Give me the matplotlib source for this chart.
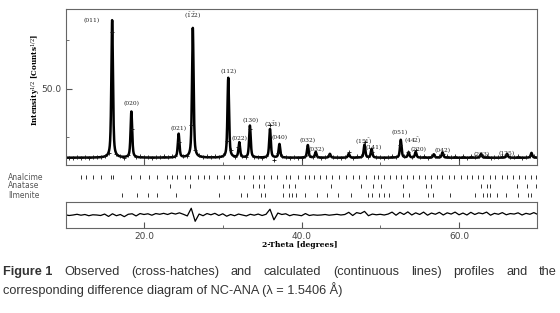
import numpy as np
import matplotlib
matplotlib.use("Agg")
import matplotlib.pyplot as plt
from matplotlib.ticker import FixedLocator, NullFormatter, FixedFormatter

plt.rcParams["mathtext.fontset"] = "dejavuserif"

# ---------------- data ----------------
# fitted reflections: position (2-theta), top of peak (sqrt counts)
peak_pos = [15.96, 18.40, 24.40, 26.20, 30.70, 32.10, 33.45, 36.00, 37.20,
            40.80, 41.80, 43.60, 46.00, 48.00, 48.90, 52.60, 53.60, 54.50,
            56.80, 57.90, 62.80, 66.10, 69.20]
peak_top = [64.2, 45.3, 40.7, 62.6, 52.3, 38.9, 42.4, 41.7, 38.6,
            38.4, 37.0, 36.6, 36.6, 38.5, 37.6, 39.5, 36.9, 37.0,
            36.5, 36.9, 36.6, 36.6, 36.8]
background = 35.8

# labelled peaks: text, 2-theta, label centre height
hkl_text = ["(011)", "(020)", "(021)", r"$(\bar{1}\bar{2}2)$", "(112)", "(022)",
            "(130)", r"$(2\bar{3}1)$", "(040)", "(032)", "(032)", r"$(15\bar{1})$",
            "(141)", "(051)", r"$(44\bar{2})$", "(220)", "(042)", "(233)", "(125)"]
hkl_pos = [13.35, 18.40, 24.40, 26.20, 30.70, 32.10, 33.55, 36.40, 37.25,
           40.80, 41.95, 47.90, 49.20, 52.40, 54.10, 54.90, 57.90, 62.90, 66.00]
hkl_y = [64.2, 46.9, 41.75, 65.25, 53.5, 39.7, 43.4, 42.8, 39.9,
         39.3, 37.4, 39.3, 38.0, 40.9, 39.4, 37.5, 37.2, 36.5, 36.7]

# difference curve (obs - calc), every 0.5 deg from 10 to 70
diff_x = np.arange(10.0, 70.01, 0.5)
diff_y = [0.03, -0.07, 0.0, 0.1, -0.03, 0.07, -0.1, 0.03, 0.0, -0.07,
          0.13, -0.2, 0.17, -0.1, 0.07, -0.23, 0.1, 0.17, -0.13, 0.2,
          0.07, 0.17, -0.03, 0.2, 0.1, 0.23, 0.07, 0.27, 0.13, 0.3,
          0.1, -0.13, 0.93, -0.87, 0.13, -0.1, 0.2, 0.03, 0.23, -0.07,
          0.17, -0.17, 0.07, -0.1, 0.13, 0.0, -0.13, 0.1, -0.03, 0.13,
          -0.07, 0.1, 0.8, -0.67, 0.27, 0.07, 0.17, -0.1, 0.07, 0.0,
          -0.1, 0.2, -0.07, 0.03, -0.03, 0.0, 0.07, -0.03, 0.03, 0.1,
          0.0, 0.07, 0.37, -0.07, 0.33, 0.2, 0.5, -0.1, 0.13, 0.03,
          0.1, 0.0, 0.13, 0.4, -0.03, 0.37, 0.07, 0.43, 0.0, 0.3,
          0.07, 0.4, -0.03, 0.27, 0.1, 0.37, 0.0, 0.3, 0.13, 0.4,
          0.03, 0.27, 0.0, 0.37, 0.07, 0.3, 0.17, 0.4, -0.03, 0.23,
          0.1, 0.33, 0.03, 0.2, 0.13, 0.3, 0.0, 0.23, 0.1, 0.33,
          0.07]

# Bragg reflection markers for each phase
phases = ["Analcime", "Anatase", "Ilmenite"]
analcime = [12.0, 12.7, 13.5, 14.6, 15.8, 16.1, 18.4, 19.5, 20.7, 21.7, 22.9,
            23.6, 24.2, 25.2, 25.9, 26.9, 27.6, 28.2, 29.3, 30.1, 30.8, 32.1,
            32.7, 33.8, 34.6, 35.2, 36.1, 36.9, 38.0, 38.6, 39.5, 40.5, 40.9,
            41.6, 42.4, 43.1, 43.9, 44.8, 45.6, 46.5, 47.3, 48.2, 49.2, 49.7,
            50.5, 51.2, 52.0, 52.6, 53.4, 54.2, 54.9, 55.7, 56.4, 57.2, 57.9,
            58.7, 59.4, 60.2, 61.0, 61.6, 62.4, 63.1, 63.9, 64.6, 65.4, 66.1,
            66.9, 67.6, 68.4, 69.1, 69.8]
anatase = [23.3, 25.9, 33.8, 34.6, 35.2, 37.6, 38.4, 39.2, 43.8, 47.5, 49.1,
           50.1, 52.9, 55.8, 56.5, 62.8, 63.5, 63.9, 67.3, 68.6, 69.8]
ilmenite = [17.2, 19.1, 20.5, 21.6, 24.1, 29.5, 32.3, 33.1, 34.8, 35.4, 37.6,
            38.4, 38.8, 39.3, 40.5, 42.0, 43.3, 44.6, 46.3, 48.4, 49.0, 49.9,
            50.5, 51.1, 52.9, 53.7, 56.0, 56.7, 58.8, 62.0, 63.0, 63.5, 63.9,
            64.8, 66.0, 67.5, 68.8, 69.2, 70.0]
phase_marks = [analcime, anatase, ilmenite]

caption1 = "Figure 1 Observed (cross-hatches) and calculated (continuous lines) profiles and the"
caption2 = "corresponding difference diagram of NC-ANA (\u03bb = 1.5406 \u00c5)"


def calc_profile(x):
    """pseudo-Voigt sum of the reflections above a flat background"""
    y = np.full_like(x, background)
    fwhm = 0.24
    for p, t in zip(peak_pos, peak_top):
        d = (x - p) / (fwhm / 2)
        lor = 1.0 / (1.0 + d ** 2)
        gau = np.exp(-np.log(2) * d ** 2)
        y += (t - background) * (0.6 * lor + 0.4 * gau)
    return y


W, H = 560, 313
fig = plt.figure(figsize=(W / 100, H / 100), dpi=100)


def axes_px(l, t, r, b):
    return fig.add_axes([l / W, 1 - b / H, (r - l) / W, (b - t) / H])


frame = "#666666"
tick_grey = "#555555"

# ---------------- main pattern ----------------
ax = axes_px(66, 9, 537, 165)
xf = np.linspace(10.0, 70.0, 4000)
ax.plot(xf, calc_profile(xf), color="black", lw=1.8)
ax.plot(diff_x, calc_profile(diff_x) + np.array(diff_y), "+", color="#111111",
        ms=2.5, mew=0.6)
ax.set_xlim(10.1, 69.9)
ax.set_ylim(34.3, 66.5)
ax.xaxis.set_major_locator(FixedLocator([20, 40, 60]))
ax.xaxis.set_minor_locator(FixedLocator([30, 50]))
ax.xaxis.set_major_formatter(NullFormatter())
ax.yaxis.set_major_locator(FixedLocator([50]))
ax.yaxis.set_major_formatter(FixedFormatter(["50.0"]))
ax.yaxis.set_minor_locator(FixedLocator([40, 60]))
ax.tick_params(axis="both", which="both", direction="in", colors=tick_grey,
               labelsize=6.5, labelcolor="#444444")
ax.tick_params(which="major", length=4, width=0.8)
ax.tick_params(which="minor", length=2.5, width=0.6)
for s in ax.spines.values():
    s.set_color(frame)
    s.set_linewidth(0.8)

for txt, xp, yp in zip(hkl_text, hkl_pos, hkl_y):
    ax.text(xp, yp, txt, ha="center", va="center", fontsize=4.3,
            family="DejaVu Serif", color="#222222")

# ---------------- reflection markers ----------------
axm = axes_px(66, 170, 537, 200)
axm.set_xlim(10.1, 69.9)
axm.set_ylim(2.56, -0.78)
for k, marks in enumerate(phase_marks):
    axm.vlines(marks, k - 0.25, k + 0.25, color="#333333", lw=0.7)
axm.axis("off")
for k, name in enumerate(phases):
    fig.text(8 / W, 1 - (177 + 9 * k) / H, name, fontsize=5.5, color="#555555",
             va="center", ha="left")

# ---------------- difference curve ----------------
axd = axes_px(66, 202, 537, 228)
axd.plot(diff_x, diff_y, color="black", lw=0.9)
axd.set_xlim(10.1, 69.9)
axd.set_ylim(-1.8, 1.8)
axd.xaxis.set_major_locator(FixedLocator([20, 40, 60]))
axd.xaxis.set_minor_locator(FixedLocator([30, 50]))
axd.xaxis.set_major_formatter(FixedFormatter(["20.0", "40.0", "60.0"]))
axd.set_yticks([])
axd.tick_params(axis="x", which="both", direction="in", colors=tick_grey,
                labelsize=6.5, labelcolor="#444444", pad=3)
axd.tick_params(which="major", length=4, width=0.8)
axd.tick_params(which="minor", length=2.5, width=0.6)
for s in axd.spines.values():
    s.set_color(frame)
    s.set_linewidth(0.8)

# axis titles
fig.text(300 / W, 1 - 245 / H, "2-Theta [degrees]", fontsize=5.5,
         family="DejaVu Serif", weight="bold", ha="center", va="center")
fig.text(36 / W, 1 - 80 / H, r"Intensity$^{1/2}$ [Counts$^{1/2}$]", fontsize=5.2,
         family="DejaVu Serif", weight="bold", rotation=90, ha="center",
         va="center")

# ---------------- caption (first line justified) ----------------
cap_font = dict(fontsize=9.2, family="Liberation Sans", color="#333333",
                va="center", ha="left")
words = caption1.split(" ")
words = ["Figure 1"] + words[2:]
y1 = 1 - 272 / H
pieces = []
for i, w in enumerate(words):
    t = fig.text(0, y1, w, weight="bold" if i == 0 else "normal", **cap_font)
    pieces.append(t)
fig.canvas.draw()
r = fig.canvas.get_renderer()
widths = [p.get_window_extent(r).width for p in pieces]
left, right = 3.0, 557.0
gap = (right - left - sum(widths)) / (len(pieces) - 1)
xpos = left
for p, w in zip(pieces, widths):
    p.set_x(xpos / W)
    xpos += w + gap
fig.text(left / W, 1 - 290 / H, caption2, **cap_font)

fig.savefig("out.png", dpi=100)
